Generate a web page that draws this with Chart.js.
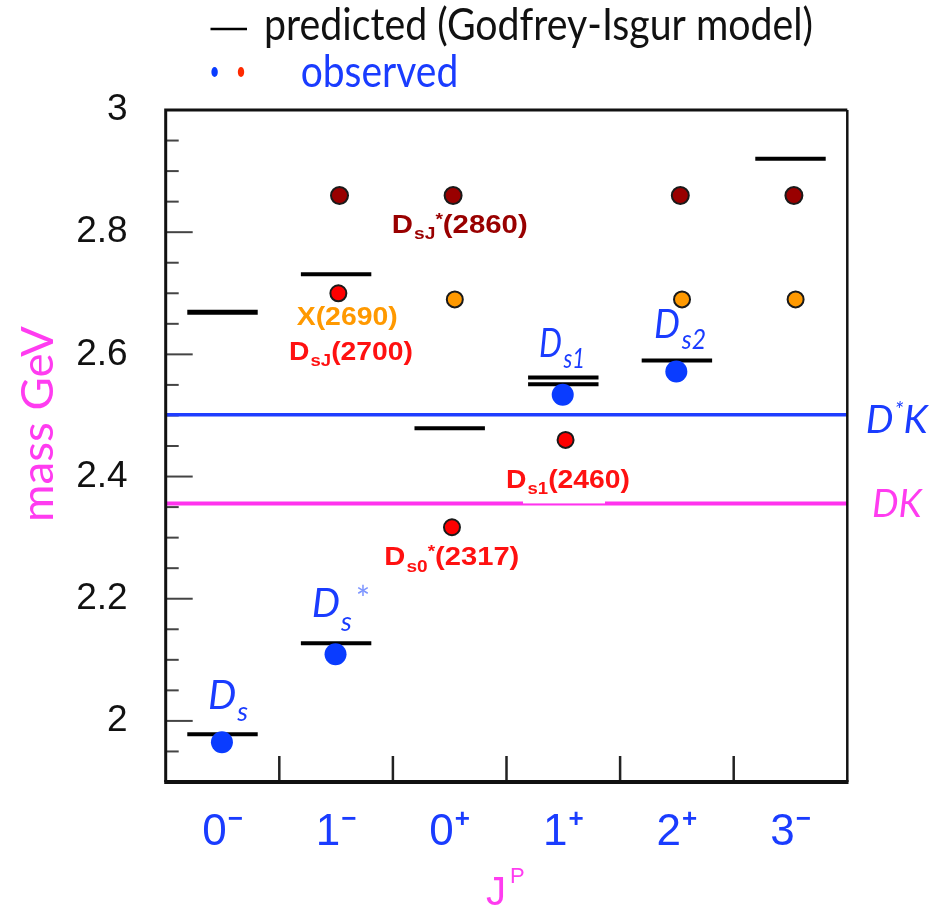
<!DOCTYPE html>
<html>
<head>
<meta charset="utf-8">
<title>D_s spectrum</title>
<script src="https://cdn.jsdelivr.net/npm/chart.js@4.4.1/dist/chart.umd.min.js"></script>
<style>
  html, body { margin: 0; padding: 0; background: #fff; }
  canvas { display: block; }
</style>
</head>
<body>
<canvas id="massChart" width="949" height="907"></canvas>
<script>
// J^P columns along the x axis
const jpSpin = ['0', '1', '0', '1', '2', '3'];
const jpParity = ['\u2212', '\u2212', '+', '+', '+', '\u2212'];

// Godfrey-Isgur predicted levels (column index, mass in GeV)
const predSlot = [0, 0, 1, 1, 2, 3, 3, 4, 5];
const predMass = [1.978, 2.669, 2.127, 2.731, 2.479, 2.562, 2.551, 2.590, 2.920];

// observed states, blue: Ds, Ds*, Ds1, Ds2
const blueSlot = [0, 1, 3, 4];
const blueMass = [1.965, 2.109, 2.534, 2.572];

// observed states, red: DsJ(2700), Ds0*(2317), Ds1(2460)
const redSlot = [1, 2, 3];
const redMass = [2.700, 2.317, 2.460];

// X(2690) candidate assignments (orange)
const orangeSlot = [2, 4, 5];
const orangeMass = [2.690, 2.690, 2.690];

// DsJ*(2860) candidate assignments (dark red)
const darkSlot = [1, 2, 4, 5];
const darkMass = [2.860, 2.860, 2.860, 2.860];

// thresholds
const thrDK = 2.356;
const thrDstarK = 2.501;

const BLUE = '#1a3cff';
const MAGENTA = '#ff3cf0';

function pts(slots, masses, shift) {
  return slots.map((s, i) => ({ x: s + 0.5 + shift, y: masses[i] }));
}

const levelSets = predMass.map((m, i) => ({
  data: [{ x: predSlot[i] + 0.19, y: m }, { x: predSlot[i] + 0.81, y: m }],
  showLine: true,
  borderColor: '#000',
  borderWidth: i === 1 ? 5 : 4,
  pointRadius: 0,
  order: 2
}));

function threshold(m, color, w) {
  return {
    data: [{ x: 0, y: m }, { x: 6, y: m }],
    showLine: true,
    borderColor: color,
    borderWidth: w,
    pointRadius: 0,
    order: 3
  };
}

function dots(data, fill, r, bw) {
  return {
    data: data,
    pointRadius: r,
    pointBackgroundColor: fill,
    pointBorderColor: '#1a1a1a',
    pointBorderWidth: bw,
    showLine: false,
    order: 0
  };
}

// draws a run of text pieces (main / sub / superscript), optionally squeezed to width w
function rich(ctx, x, y, parts, color, w) {
  let total = 0;
  parts.forEach(p => {
    ctx.font = p.f;
    p.w = ctx.measureText(p.t).width;
    total += p.w + (p.gap || 0);
  });
  const sx = w ? w / total : 1;
  ctx.save();
  ctx.translate(x, y);
  ctx.scale(sx, 1);
  ctx.textAlign = 'left';
  ctx.textBaseline = 'alphabetic';
  let cx = 0;
  parts.forEach(p => {
    cx += p.gap || 0;
    ctx.font = p.f;
    ctx.fillStyle = p.c || color;
    ctx.fillText(p.t, cx, p.dy || 0);
    cx += p.w;
  });
  ctx.restore();
}

const B26 = 'bold 26px "Liberation Sans"';
const B17 = 'bold 17px "Liberation Sans"';
const I40 = 'italic 40px Lato';
const I27 = 'italic 27px Lato';

function mev(m) { return '(' + Math.round(m * 1000) + ')'; }

const deco = {
  id: 'deco',
  beforeDatasetsDraw(chart) {
    const { ctx, chartArea: a, scales: { x, y } } = chart;
    ctx.save();
    ctx.strokeStyle = '#444';
    ctx.lineWidth = 2;
    // mass ticks every 50 MeV, longer every 200 MeV
    for (let k = 39; k <= 59; k++) {
      const py = y.getPixelForValue(k / 20);
      const len = k % 4 === 0 ? 27 : 13;
      ctx.beginPath();
      ctx.moveTo(a.left, py);
      ctx.lineTo(a.left + len, py);
      ctx.stroke();
    }
    ctx.strokeStyle = '#222';
    ctx.lineWidth = 2.5;
    for (let k = 1; k <= 5; k++) {
      const px = x.getPixelForValue(k);
      ctx.beginPath();
      ctx.moveTo(px, a.bottom);
      ctx.lineTo(px, a.bottom - 26);
      ctx.stroke();
    }
    ctx.restore();
  },
  afterDatasetsDraw(chart) {
    const { ctx, chartArea: a, scales: { x, y } } = chart;
    ctx.save();

    // frame
    ctx.strokeStyle = '#111';
    ctx.lineWidth = 3;
    ctx.beginPath();
    ctx.moveTo(a.left, a.bottom);
    ctx.lineTo(a.left, a.top);
    ctx.lineTo(a.right, a.top);
    ctx.stroke();
    ctx.lineWidth = 2.5;
    ctx.beginPath();
    ctx.moveTo(a.right, a.top);
    ctx.lineTo(a.right, a.bottom);
    ctx.stroke();
    ctx.lineWidth = 4;
    ctx.beginPath();
    ctx.moveTo(a.left - 1.5, a.bottom);
    ctx.lineTo(a.right + 1.2, a.bottom);
    ctx.stroke();

    // J^P column labels
    jpSpin.forEach((s, i) => {
      const cx = x.getPixelForValue(i + 0.5);
      ctx.font = '44px "Liberation Sans"';
      const dw = ctx.measureText(s).width;
      ctx.font = 'bold 26px "Liberation Sans"';
      const sw = ctx.measureText(jpParity[i]).width;
      const left = cx - (dw + 1 + sw) / 2;
      ctx.fillStyle = BLUE;
      ctx.textAlign = 'left';
      ctx.font = '44px "Liberation Sans"';
      ctx.fillText(s, left, 845);
      ctx.font = 'bold 26px "Liberation Sans"';
      ctx.fillText(jpParity[i], left + dw + 1, 827);
    });

    // axis titles
    rich(ctx, 486, 905, [
      { t: 'J', f: '40px "Liberation Sans"' },
      { t: 'P', f: '22px "Liberation Sans"', dy: -22, gap: 4 }
    ], MAGENTA);
    ctx.save();
    ctx.translate(53, 424);
    ctx.rotate(-Math.PI / 2);
    rich(ctx, -98, 0, [{ t: 'mass GeV', f: '45px Lato' }], MAGENTA, 196);
    ctx.restore();

    // legend
    ctx.strokeStyle = '#000';
    ctx.lineWidth = 2.5;
    ctx.beginPath();
    ctx.moveTo(210.5, 29);
    ctx.lineTo(247, 29);
    ctx.stroke();
    rich(ctx, 264, 40, [{ t: 'predicted (Godfrey-Isgur model)', f: '44px Lato' }], '#111', 549);
    ctx.fillStyle = '#0a3cff';
    ctx.beginPath();
    ctx.ellipse(214.6, 72, 3.2, 5, 0, 0, Math.PI * 2);
    ctx.fill();
    ctx.fillStyle = '#ff2a00';
    ctx.beginPath();
    ctx.ellipse(241, 72, 3.2, 5, 0, 0, Math.PI * 2);
    ctx.fill();
    rich(ctx, 300.7, 87, [{ t: 'observed', f: '44px Lato' }], BLUE, 157.5);

    // threshold names
    rich(ctx, 865.7, 432.7, [
      { t: 'D', f: 'italic 38px Lato' },
      { t: '*', f: 'italic 22px Lato', dy: -16, gap: 1 },
      { t: 'K', f: 'italic 38px Lato', gap: 0 }
    ], BLUE, 62);
    rich(ctx, 872, 516.7, [{ t: 'DK', f: 'italic 38px Lato' }], MAGENTA, 49.7);

    // ground-state names
    rich(ctx, 208, 709, [{ t: 'D', f: I40 }, { t: 's', f: I27, dy: 12, gap: 1 }], BLUE);
    rich(ctx, 311.7, 617, [
      { t: 'D', f: I40 },
      { t: 's', f: I27, dy: 14, gap: 1 },
      { t: '*', f: '34px Lato', dy: -6, gap: 4, c: '#7d95ff' }
    ], BLUE);
    rich(ctx, 539, 357, [{ t: 'D', f: I40 }, { t: 's1', f: I27, dy: 11, gap: 2 }], BLUE, 46);
    rich(ctx, 654, 338.3, [{ t: 'D', f: I40 }, { t: 's2', f: I27, dy: 11, gap: 2 }], BLUE, 52);

    // names of the newer states
    rich(ctx, 391.7, 233, [
      { t: 'D', f: B26 }, { t: 'sJ', f: B17, dy: 6, gap: 1 },
      { t: '*', f: B17, dy: -8 }, { t: mev(darkMass[0]), f: B26 }
    ], '#990000', 136);
    rich(ctx, 296.7, 325, [{ t: 'X' + mev(orangeMass[0]), f: B26 }], '#ff9900', 101);
    rich(ctx, 289, 360, [
      { t: 'D', f: B26 }, { t: 'sJ', f: B17, dy: 6, gap: 1 }, { t: mev(redMass[0]), f: B26 }
    ], '#ff1111', 124);
    ctx.fillStyle = '#fff';
    ctx.fillRect(523, 466, 82, y.getPixelForValue(thrDK) - 466);
    rich(ctx, 506, 488, [
      { t: 'D', f: B26 }, { t: 's1', f: B17, dy: 6, gap: 1 }, { t: mev(redMass[2]), f: B26 }
    ], '#ff1111', 124);
    rich(ctx, 384.3, 565, [
      { t: 'D', f: B26 }, { t: 's0', f: B17, dy: 7, gap: 1 },
      { t: '*', f: B17, dy: -8 }, { t: mev(redMass[1]), f: B26 }
    ], '#ff1111', 135);

    ctx.restore();
  }
};

new Chart(document.getElementById('massChart'), {
  type: 'scatter',
  data: {
    datasets: [
      dots(pts(blueSlot, blueMass, -0.005), '#0a3cff', 11, 0),
      dots(pts(redSlot, redMass, 0.02), '#ff0000', 8, 2),
      dots(pts(orangeSlot, orangeMass, 0.045), '#ff9900', 8, 2),
      dots(pts(darkSlot, darkMass, 0.03), '#990000', 8.5, 2),
      ...levelSets,
      threshold(thrDstarK, '#1f3dff', 3.5),
      threshold(thrDK, '#ff33ee', 4)
    ]
  },
  options: {
    responsive: false,
    animation: false,
    layout: { padding: { top: 110, right: 101.7, left: 0, bottom: 0 } },
    plugins: {
      legend: { display: false },
      tooltip: { enabled: false }
    },
    scales: {
      x: {
        type: 'linear',
        min: 0,
        max: 6,
        grid: { display: false },
        border: { display: false },
        ticks: { display: false },
        afterFit: s => { s.height = 125; }
      },
      y: {
        min: 1.9,
        max: 3.0,
        grid: { display: false, drawTicks: false },
        border: { display: false },
        ticks: {
          stepSize: 0.05,
          autoSkip: false,
          padding: 38,
          color: '#111',
          font: { family: 'Liberation Sans', size: 37 },
          callback: v => Math.abs(v * 5 - Math.round(v * 5)) < 1e-6 ? String(Math.round(v * 10) / 10) : ''
        },
        afterFit: s => { s.width = 165.7; }
      }
    }
  },
  plugins: [deco]
});
</script>
</body>
</html>
